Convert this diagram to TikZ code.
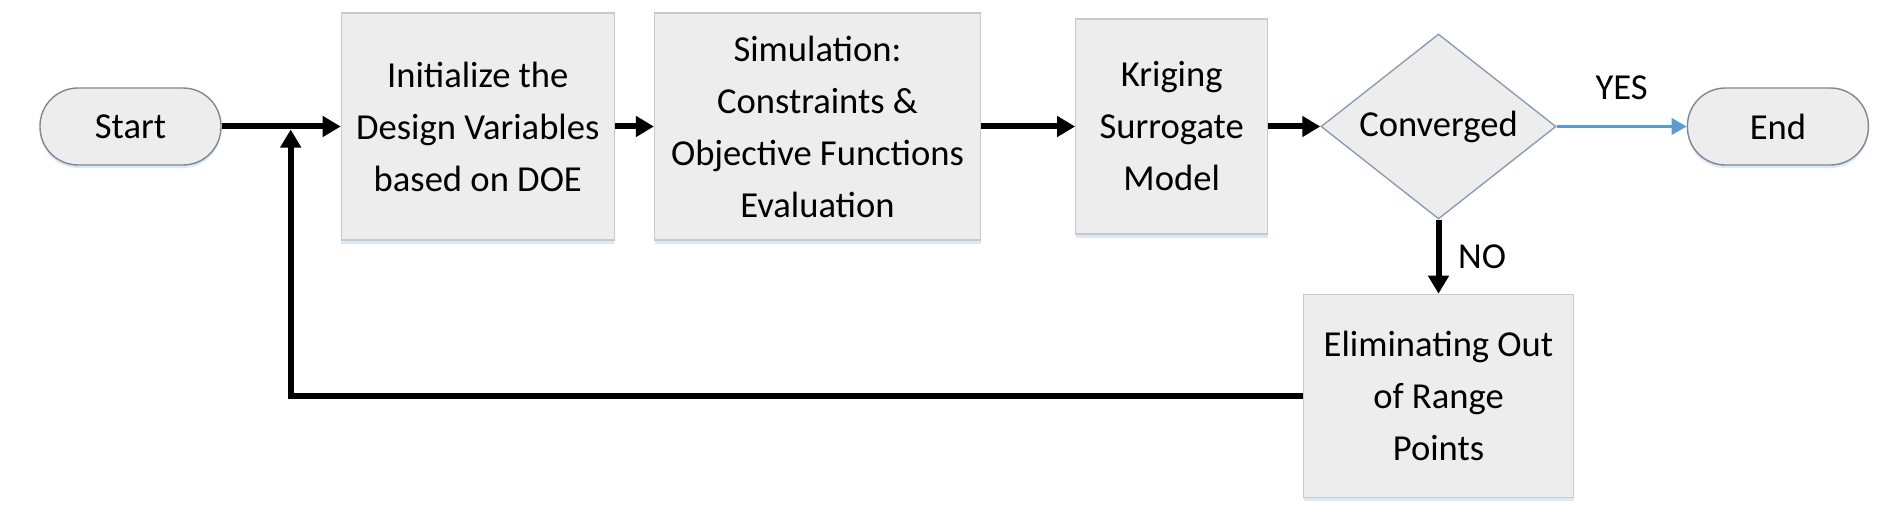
\documentclass[tikz,border=0pt]{standalone}
\usepackage{fontspec}
\setmainfont{Carlito}
\usetikzlibrary{arrows.meta,shapes.geometric,shadows,positioning}

\definecolor{boxfill}{HTML}{EDEDED}
\definecolor{boxline}{HTML}{C9C9C9}
\definecolor{pillline}{HTML}{7D8896}
\definecolor{dialine}{HTML}{8B9DB5}
\definecolor{yesblue}{HTML}{5B9BD5}
\definecolor{glow}{HTML}{DCE8F5}

\tikzset{
  every node/.style={font=\fontsize{18.3pt}{26pt}\selectfont, text=black},
  terminal/.style={draw=pillline, line width=0.7pt, fill=boxfill, rounded corners=19pt,
    minimum width=90.5pt, minimum height=38.5pt,
    drop shadow={shadow xshift=0pt, shadow yshift=-1.5pt, fill=glow, opacity=1}},
  process/.style={draw=boxline, line width=0.6pt, fill=boxfill, align=center,
    minimum height=113.5pt, inner sep=2pt,
    drop shadow={shadow xshift=0pt, shadow yshift=-2pt, fill=glow, opacity=1}},
  decision/.style={diamond, aspect=1.27, draw=dialine, line width=0.7pt, fill=boxfill,
    minimum width=117.5pt, minimum height=92.5pt, inner sep=0pt},
  flow/.style={-{Triangle[length=9pt,width=10pt]}, line width=3pt},
  yesflow/.style={-{Triangle[length=7.5pt,width=8pt]}, line width=1.8pt, draw=yesblue},
}

\begin{document}
\begin{tikzpicture}
    \useasboundingbox (0,0) rectangle (950pt,-262pt);
    \node (start) [terminal] at (65.25pt,-63.25pt) {Start};
    \node (init) [process, minimum width=136.5pt, right=59.5pt of start] {Initialize the\\Design Variables\\based on DOE};
    \node (sim) [process, minimum width=163pt, right=19.5pt of init] {Simulation:\\Constraints \&\\Objective Functions\\Evaluation};
    \node (krig) [process, minimum width=96pt, minimum height=107.5pt, right=47pt of sim] {Kriging\\Surrogate\\Model};
    \node (conv) [decision, right=26pt of krig] {Converged};
    \node (finish) [terminal, right=65pt of conv] {End};
    \node (elim) [process, minimum width=135pt, minimum height=101.5pt, below=37pt of conv] {Eliminating Out\\of Range\\Points};
    \coordinate [right=34.5pt of start.east] (join);

    \draw[flow] (start) -- (init);
    \draw[flow] (init) -- (sim);
    \draw[flow] (sim) -- (krig);
    \draw[flow] (krig) -- (conv);
    \draw[yesflow] (conv) -- node[above=9pt, midway] {YES} (finish);
    \draw[flow] (conv) -- node[right=5pt, midway] {NO} (elim);
    \draw[flow] (elim.west) -| ([yshift=-1.5pt]join);
\end{tikzpicture}
\end{document}
